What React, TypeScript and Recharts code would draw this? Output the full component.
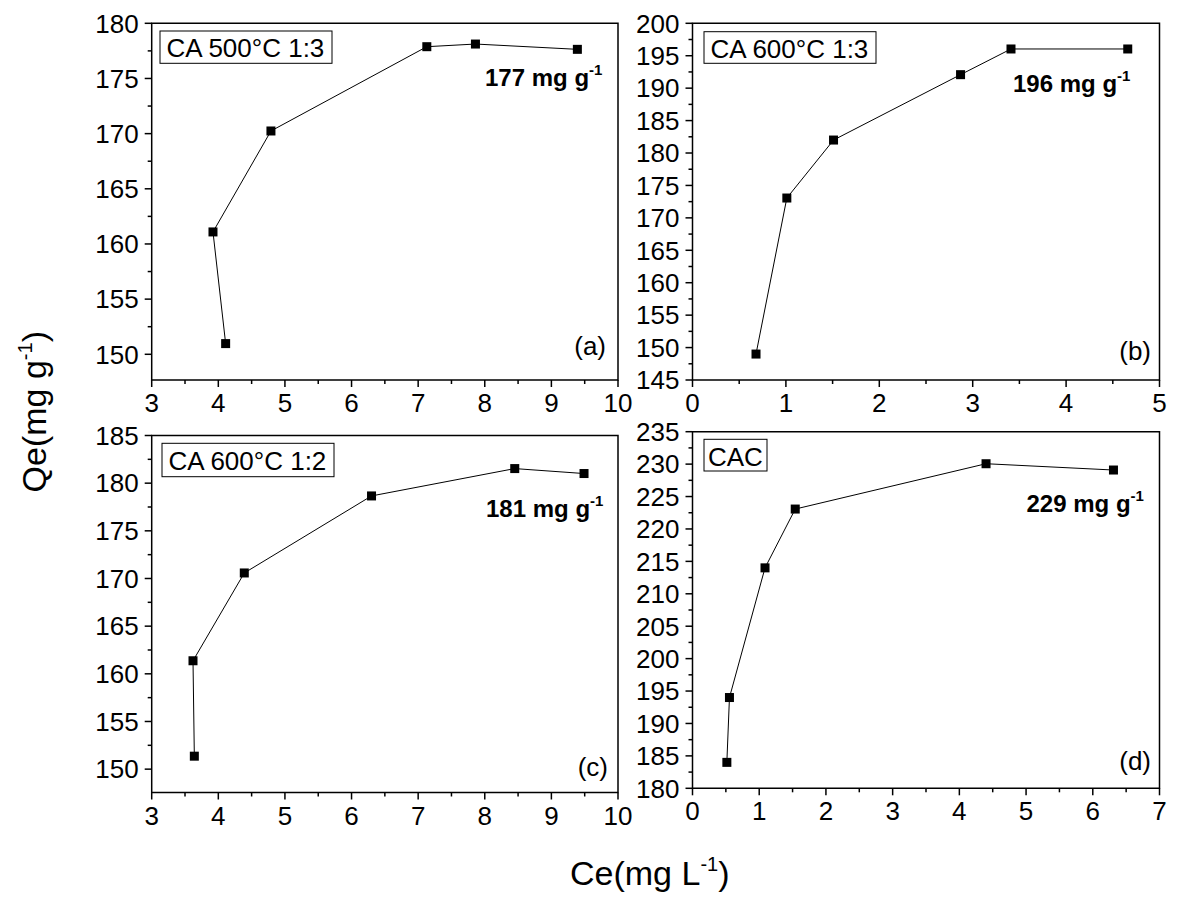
import React from "react";
import { LineChart, Line, XAxis, YAxis, ReferenceArea } from "recharts";

const W = 1179;
const H = 897;
const FONT = '"Liberation Sans", Arial, Helvetica, sans-serif';

// Ce (mg/L) and Qe (mg/g), in the order they are joined
const ceA = [4.11, 3.92, 4.79, 7.13, 7.86, 9.39];
const qeA = [150.97, 161.09, 170.24, 177.88, 178.12, 177.64];

const ceB = [0.68, 1.01, 1.51, 2.87, 3.41, 4.66];
const qeB = [149.0, 173.06, 182.0, 192.08, 196.04, 196.04];

const ceC = [3.64, 3.62, 4.39, 6.3, 8.45, 9.49];
const qeC = [151.36, 161.37, 170.58, 178.66, 181.53, 181.01];

const ceD = [0.515, 0.554, 1.087, 1.54, 4.4, 6.31];
const qeD = [184.0, 194.0, 214.0, 223.07, 230.06, 229.09];

// tick labels
const xTicksAC = [3, 4, 5, 6, 7, 8, 9, 10];
const xTicksB = [0, 1, 2, 3, 4, 5];
const xTicksD = [0, 1, 2, 3, 4, 5, 6, 7];
const yTicksA = [150, 155, 160, 165, 170, 175, 180];
const yTicksB = [145, 150, 155, 160, 165, 170, 175, 180, 185, 190, 195, 200];
const yTicksC = [150, 155, 160, 165, 170, 175, 180, 185];
const yTicksD = [180, 185, 190, 195, 200, 205, 210, 215, 220, 225, 230, 235];

const titles = ["CA 500°C 1:3", "CA 600°C 1:3", "CA 600°C 1:2", "CAC"];
const capacities = ["177", "196", "181", "229"];
const tags = ["(a)", "(b)", "(c)", "(d)"];

const minors = (t: number[]) => t.slice(1).map((v, i) => (v + t[i]) / 2);

const makeXTick = (majors: number[]) => (props: any) => {
  const { x, y, payload } = props;
  const major = majors.includes(payload.value);
  return (
    <g>
      <line x1={x} x2={x} y1={y} y2={y + (major ? 7 : 4)} stroke="#000" strokeWidth={1.5} />
      {major && (
        <text x={x} y={y + 32} textAnchor="middle" fontSize={26} fontFamily={FONT} fill="#000">
          {payload.value}
        </text>
      )}
    </g>
  );
};

const makeYTick = (majors: number[]) => (props: any) => {
  const { x, y, payload } = props;
  const major = majors.includes(payload.value);
  return (
    <g>
      <line x1={x - (major ? 7 : 4)} x2={x} y1={y} y2={y} stroke="#000" strokeWidth={1.5} />
      {major && (
        <text x={x - 13} y={y + 9.3} textAnchor="end" fontSize={26} fontFamily={FONT} fill="#000">
          {payload.value}
        </text>
      )}
    </g>
  );
};

const Square = (props: any) => {
  const { cx, cy } = props;
  if (cx == null || cy == null) return null;
  const s = 9;
  return <rect x={cx - s / 2} y={cy - s / 2} width={s} height={s} fill="#000" />;
};

interface PanelProps {
  ce: number[];
  qe: number[];
  xTicks: number[];
  yTicks: number[];
  xDomain: [number, number];
  yDomain: [number, number];
  box: { l: number; r: number; t: number; b: number };
}

function Panel({ ce, qe, xTicks, yTicks, xDomain, yDomain, box }: PanelProps) {
  const data = ce.map((c, i) => ({ ce: c, qe: qe[i] }));
  const yW = 60;
  const xH = 40;
  const allX = [...xTicks, ...minors(xTicks)].sort((a, b) => a - b);
  const allY = [...yTicks, ...minors(yTicks)].filter((v) => v >= yDomain[0]).sort((a, b) => a - b);
  return (
    <div style={{ position: "absolute", left: 0, top: 0 }}>
      <LineChart
        width={W}
        height={H}
        data={data}
        margin={{ left: box.l - yW, right: W - box.r, top: box.t, bottom: H - box.b - xH }}
        style={{ overflow: "visible" }}
      >
        <XAxis
          dataKey="ce"
          type="number"
          domain={xDomain}
          ticks={allX}
          interval={0}
          allowDataOverflow
          height={xH}
          axisLine={false}
          tickLine={false}
          tickSize={0}
          tickMargin={0}
          tick={makeXTick(xTicks)}
        />
        <YAxis
          dataKey="qe"
          type="number"
          domain={yDomain}
          ticks={allY}
          interval={0}
          allowDataOverflow
          width={yW}
          axisLine={false}
          tickLine={false}
          tickSize={0}
          tickMargin={0}
          tick={makeYTick(yTicks)}
        />
        <ReferenceArea
          x1={xDomain[0]}
          x2={xDomain[1]}
          y1={yDomain[0]}
          y2={yDomain[1]}
          fill="none"
          fillOpacity={0}
          stroke="#000"
          strokeWidth={1.5}
          ifOverflow="visible"
        />
        <Line
          type="linear"
          dataKey="qe"
          stroke="#000"
          strokeWidth={1}
          dot={<Square />}
          activeDot={false}
          isAnimationActive={false}
        />
      </LineChart>
    </div>
  );
}

// annotation placement (pixels)
const notes = [
  { bx: 160, by: 31, bw: 172, bh: 32.3, tx: 166.5, ty: 57, cx: 485, cy: 86, gx: 606, gy: 355 },
  { bx: 704, by: 31.7, bw: 172, bh: 31.6, tx: 710.5, ty: 57.5, cx: 1013, cy: 91.7, gx: 1151, gy: 360 },
  { bx: 162, by: 443.3, bw: 172, bh: 33.4, tx: 168.5, ty: 470, cx: 486, cy: 516.7, gx: 608, gy: 776 },
  { bx: 704, by: 439.3, bw: 63, bh: 31.7, tx: 708, ty: 465.5, cx: 1026.5, cy: 511.7, gx: 1151, gy: 770 },
];

export default function App() {
  return (
    <div style={{ position: "absolute", left: 0, top: 0, width: W, height: H, background: "#fff" }}>
      <Panel ce={ceA} qe={qeA} xTicks={xTicksAC} yTicks={yTicksA} xDomain={[3, 10]} yDomain={[147.67, 180]}
        box={{ l: 151.7, r: 618, t: 23.3, b: 380 }} />
      <Panel ce={ceB} qe={qeB} xTicks={xTicksB} yTicks={yTicksB} xDomain={[0, 5]} yDomain={[145, 200]}
        box={{ l: 692.5, r: 1159.5, t: 23.3, b: 380 }} />
      <Panel ce={ceC} qe={qeC} xTicks={xTicksAC} yTicks={yTicksC} xDomain={[3, 10]} yDomain={[147.55, 185]}
        box={{ l: 151.7, r: 618, t: 435.5, b: 792.5 }} />
      <Panel ce={ceD} qe={qeD} xTicks={xTicksD} yTicks={yTicksD} xDomain={[0, 7]} yDomain={[180, 235]}
        box={{ l: 692.5, r: 1159.5, t: 431.7, b: 788.3 }} />
      <svg width={W} height={H} style={{ position: "absolute", left: 0, top: 0, pointerEvents: "none" }}
        fontFamily={FONT} fill="#000">
        {notes.map((n, i) => (
          <g key={i}>
            <rect x={n.bx} y={n.by} width={n.bw} height={n.bh} fill="#fff" stroke="#000" strokeWidth={1} />
            <text x={n.tx} y={n.ty} fontSize={26}>{titles[i]}</text>
            <text x={n.cx} y={n.cy} fontSize={24} fontWeight="bold">
              {capacities[i]} mg g<tspan fontSize={15} dy={-11}>-1</tspan>
            </text>
            <text x={n.gx} y={n.gy} fontSize={26} textAnchor="end">{tags[i]}</text>
          </g>
        ))}
        <text x={570} y={885} fontSize={34}>
          Ce(mg L<tspan fontSize={20} dy={-14}>-1</tspan><tspan dy={14}>)</tspan>
        </text>
        <text transform="translate(46, 411.7) rotate(-90)" textAnchor="middle" fontSize={34}>
          Qe(mg g<tspan fontSize={20} dy={-14}>-1</tspan><tspan dy={14}>)</tspan>
        </text>
      </svg>
    </div>
  );
}
